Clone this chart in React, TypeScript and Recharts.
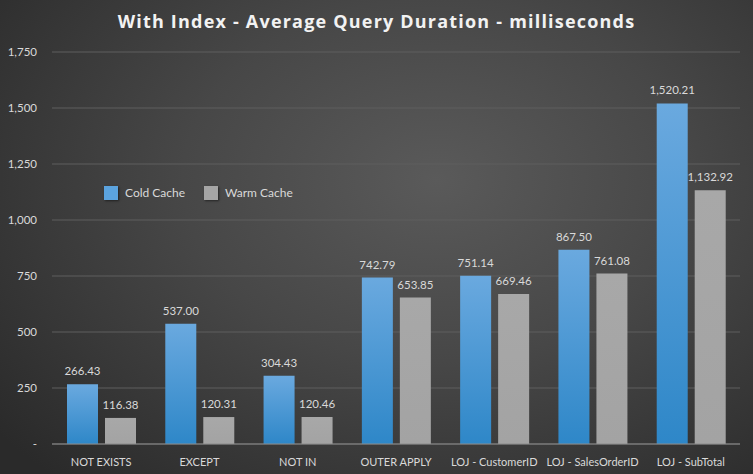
import React from 'react';
import { BarChart, Bar, XAxis, YAxis, CartesianGrid, LabelList } from 'recharts';

const categories = ['NOT EXISTS', 'EXCEPT', 'NOT IN', 'OUTER APPLY', 'LOJ - CustomerID', 'LOJ - SalesOrderID', 'LOJ - SubTotal'];
const coldCache = [266.43, 537.0, 304.43, 742.79, 751.14, 867.5, 1520.21];
const warmCache = [116.38, 120.31, 120.46, 653.85, 669.46, 761.08, 1132.92];
const yTicks = [0, 250, 500, 750, 1000, 1250, 1500, 1750];

const data = categories.map((name, i) => ({ name, cold: coldCache[i], warm: warmCache[i] }));

const FONT = 'Lato, "Open Sans", sans-serif';
const TEXT = '#d9d9d9';

const fmtTick = (v: number) => (v === 0 ? '-' : v.toLocaleString('en-US'));
const fmtVal = (v: number) => v.toLocaleString('en-US', { minimumFractionDigits: 2, maximumFractionDigits: 2 });

const LegendBox = () => (
  <div
    style={{
      position: 'absolute',
      top: 185,
      left: 104,
      display: 'flex',
      alignItems: 'center',
      fontFamily: FONT,
      fontSize: 12,
      color: TEXT,
      lineHeight: '16px',
    }}
  >
    <span style={{ width: 14, height: 14, background: '#5ba3de', boxShadow: '1px 1px 2px rgba(0,0,0,0.5)', display: 'inline-block' }} />
    <span style={{ marginLeft: 7, width: 79 }}>Cold Cache</span>
    <span style={{ width: 14, height: 14, background: '#a5a5a5', boxShadow: '1px 1px 2px rgba(0,0,0,0.5)', display: 'inline-block' }} />
    <span style={{ marginLeft: 7 }}>Warm Cache</span>
  </div>
);

export default function App() {
  return (
    <div
      style={{
        position: 'absolute',
        left: 0,
        top: 0,
        width: 753,
        height: 474,
        background: 'radial-gradient(ellipse 75% 85% at 58% 38%, #5a5a5a 0%, #474747 45%, #2a2a2a 100%)',
        overflow: 'hidden',
      }}
    >
      <div
        style={{
          position: 'absolute',
          top: 9,
          left: 0,
          width: 753,
          textAlign: 'center',
          fontFamily: '"Open Sans", sans-serif',
          fontWeight: 700,
          fontSize: 18,
          letterSpacing: 1.2,
          color: '#f2f2f2',
        }}
      >
        With Index - Average Query Duration - milliseconds
      </div>
      <BarChart
        width={753}
        height={474}
        data={data}
        margin={{ top: 52, right: 13, left: 0, bottom: 0 }}
        barCategoryGap={15}
        barGap={7}
      >
        <defs>
          <linearGradient id="blueGrad" x1="0" y1="0" x2="0" y2="1">
            <stop offset="0%" stopColor="#6aa9df" />
            <stop offset="100%" stopColor="#2e87c8" />
          </linearGradient>
          <linearGradient id="grayGrad" x1="0" y1="0" x2="0" y2="1">
            <stop offset="0%" stopColor="#a8a8a8" />
            <stop offset="100%" stopColor="#a3a3a3" />
          </linearGradient>
        </defs>
        <CartesianGrid horizontal vertical={false} stroke="#5e5e5e" strokeWidth={1} />
        <XAxis
          dataKey="name"
          height={30}
          tickLine={false}
          axisLine={{ stroke: '#8a8a8a' }}
          tickMargin={8}
          tick={{ fill: TEXT, fontSize: 11, fontFamily: FONT }}
          interval={0}
        />
        <YAxis
          width={52}
          domain={[0, 1750]}
          ticks={yTicks}
          tickFormatter={fmtTick}
          tickLine={false}
          tickSize={0}
          tickMargin={15}
          axisLine={false}
          tick={{ fill: TEXT, fontSize: 11.5, fontFamily: FONT }}
        />
        <Bar dataKey="cold" name="Cold Cache" fill="url(#blueGrad)" isAnimationActive={false}>
          <LabelList dataKey="cold" position="top" offset={9} formatter={fmtVal} fill={TEXT} fontSize={11.5} fontFamily={FONT} />
        </Bar>
        <Bar dataKey="warm" name="Warm Cache" fill="url(#grayGrad)" isAnimationActive={false}>
          <LabelList dataKey="warm" position="top" offset={9} formatter={fmtVal} fill={TEXT} fontSize={11.5} fontFamily={FONT} />
        </Bar>
      </BarChart>
      <LegendBox />
    </div>
  );
}
